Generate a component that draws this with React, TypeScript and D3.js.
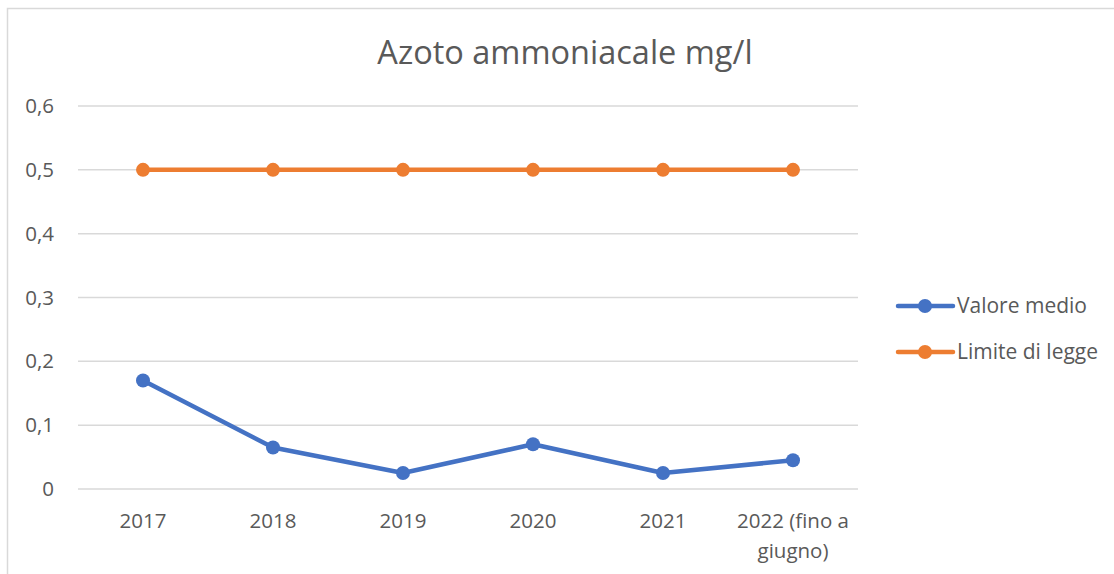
import React from 'react';
import * as d3 from 'd3';

const categories = ['2017', '2018', '2019', '2020', '2021', '2022 (fino a giugno)'];
const valoreMedio = [0.17, 0.065, 0.025, 0.07, 0.025, 0.045];
const limiteDiLegge = [0.5, 0.5, 0.5, 0.5, 0.5, 0.5];
const yTicks = [0, 0.1, 0.2, 0.3, 0.4, 0.5, 0.6];
const seriesNames = ['Valore medio', 'Limite di legge'];
const seriesColors = ['#4472C4', '#ED7D31'];

const W = 1114;
const H = 574;
const FONT = '"Open Sans", sans-serif';

// greedy word wrap, Excel-like, for the long category label
const wrapLabel = (s: string, maxChars = 12): string[] => {
  const lines: string[] = [];
  let cur = '';
  s.split(' ').forEach(w => {
    const next = cur ? cur + ' ' + w : w;
    if (next.length > maxChars && cur) {
      lines.push(cur);
      cur = w;
    } else {
      cur = next;
    }
  });
  if (cur) lines.push(cur);
  return lines;
};

const App: React.FC = () => {
  const margin = { left: 78, right: 256, top: 106, bottom: 85 };
  const x = d3.scaleBand<string>()
    .domain(categories)
    .range([margin.left, W - margin.right]);
  const y = d3.scaleLinear().domain([0, 0.6]).range([H - margin.bottom, margin.top]);
  const cx = (c: string) => (x(c) as number) + x.bandwidth() / 2;

  const line = d3.line<number>()
    .x((_, i) => cx(categories[i]))
    .y(d => y(d));

  const series = [valoreMedio, limiteDiLegge];
  const fmt = (v: number) => d3.format('.1~f')(v).replace('.', ',');

  return (
    <svg width={W} height={H} style={{ position: 'absolute', left: 0, top: 0, background: '#fff' }}>
      <rect x={7.5} y={8.5} width={W} height={H} fill="#fff" stroke="#d9d9d9" strokeWidth={1.5} />
      <text x={565} y={64} textAnchor="middle" fontFamily={FONT} fontSize={32.5} fill="#595959">
        Azoto ammoniacale mg/l
      </text>

      {yTicks.map(t => (
        <g key={t}>
          <line x1={margin.left} x2={W - margin.right} y1={y(t)} y2={y(t)} stroke="#d9d9d9" strokeWidth={1.5} />
          <text x={54} y={y(t) + 7} textAnchor="end" fontFamily={FONT} fontSize={20.5} fill="#595959">{fmt(t)}</text>
        </g>
      ))}

      {categories.map(c => (
        <text key={c} x={cx(c)} y={528} textAnchor="middle" fontFamily={FONT} fontSize={20.5} fill="#595959">
          {wrapLabel(c).map((l, i) => (
            <tspan key={i} x={cx(c)} dy={i === 0 ? 0 : 30}>{l}</tspan>
          ))}
        </text>
      ))}

      {series.map((s, si) => (
        <g key={si}>
          <path d={line(s) as string} fill="none" stroke={seriesColors[si]} strokeWidth={4.5}
            strokeLinejoin="round" strokeLinecap="round" />
          {s.map((v, i) => (
            <circle key={i} cx={cx(categories[i])} cy={y(v)} r={7} fill={seriesColors[si]} />
          ))}
        </g>
      ))}

      {seriesNames.map((n, i) => {
        const ly = 306 + i * 46;
        return (
          <g key={n}>
            <line x1={898} x2={953} y1={ly} y2={ly} stroke={seriesColors[i]} strokeWidth={4.5} strokeLinecap="round" />
            <circle cx={925} cy={ly} r={7} fill={seriesColors[i]} />
            <text x={957} y={ly + 7} fontFamily={FONT} fontSize={21} fill="#595959">{n}</text>
          </g>
        );
      })}
    </svg>
  );
};

export default App;
